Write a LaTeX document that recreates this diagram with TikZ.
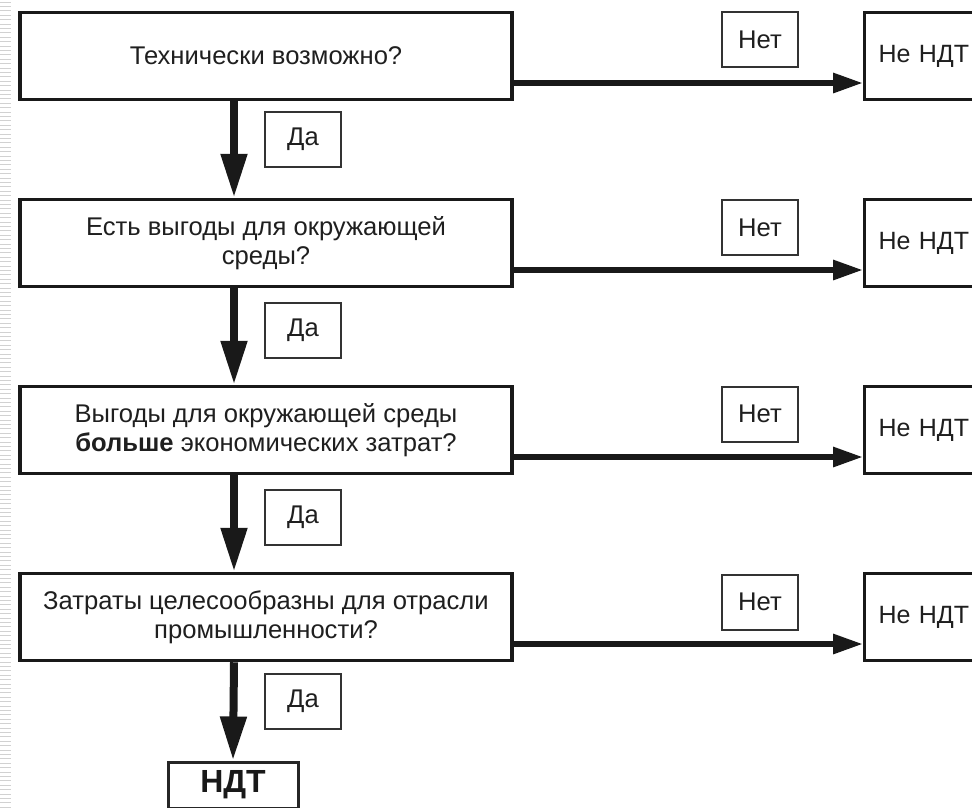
\documentclass[tikz,border=0pt]{standalone}
\usepackage{fontspec}
\setmainfont{Liberation Sans}
\usetikzlibrary{arrows.meta}
\begin{document}
\begin{tikzpicture}[x=1pt,y=-1pt,
  txt/.style={font=\fontsize{25.6}{29}\selectfont, text=black!88},
  mainbox/.style={txt, draw=black!90, line width=3.5pt, minimum width=492pt, minimum height=87pt, inner sep=0pt, align=center},
  lbl/.style={txt, draw=black!80, line width=2pt, minimum width=76pt, minimum height=55pt, inner sep=0pt},
  nnbox/.style={txt, draw=black!90, line width=3pt, anchor=west, minimum height=87pt, text width=110pt, inner xsep=14pt, inner ysep=0pt, align=left, font=\fontsize{25}{29}\selectfont},
  ndtbox/.style={draw=black!85, line width=3pt, minimum width=130pt, minimum height=46pt, inner sep=0pt, font=\fontsize{32}{36}\selectfont\bfseries, text=black!90},
  varrow/.style={draw=black!90, line width=8pt, -{Triangle[width=25pt,length=44pt]}},
  harrow/.style={draw=black!90, line width=6pt, -{Triangle[width=19pt,length=30pt]}},
  stripe/.style={draw=black!18, line width=0.9pt}
]
\useasboundingbox (0,0) rectangle (972,807);
\fill[white] (0,0) rectangle (972,807);
\clip (0,0) rectangle (972,807);
% left edge stripes
\foreach \i in {0,...,183} \draw[stripe] (0,{\i*4.4+2}) -- (11,{\i*4.4+2});

% main question boxes
\node[mainbox] (q1) at (266,56) {Технически возможно?};
\node[mainbox] (q2) at (266,243) {Есть выгоды для окружающей\\среды?};
\node[mainbox] (q3) at (266,430) {Выгоды для окружающей среды\\\textbf{больше} экономических затрат?};
\node[mainbox] (q4) at (266,617) {Затраты целесообразны для отрасли\\промышленности?};

% "Не НДТ" boxes
\node[nnbox] (n1) at (863,56) {Не НДТ};
\node[nnbox] (n2) at (863,243) {Не НДТ};
\node[nnbox] (n3) at (863,430) {Не НДТ};
\node[nnbox] (n4) at (863,617) {Не НДТ};

% "Нет" labels
\node[lbl] (no1) at (760,39.5) {Нет};
\node[lbl] (no2) at (760,227.5) {Нет};
\node[lbl] (no3) at (760,414) {Нет};
\node[lbl] (no4) at (760,602) {Нет};

% "Да" labels
\node[lbl] (y1) at (303,139) {Да};
\node[lbl] (y2) at (303,330) {Да};
\node[lbl] (y3) at (303,517) {Да};
\node[lbl] (y4) at (303,701) {Да};

% final box
\node[ndtbox] (ndt) at (233,785) {НДТ};

% horizontal "no" arrows
\draw[harrow] ([yshift=-27pt]q1.east) -- ([yshift=-27pt]n1.west);
\draw[harrow] ([yshift=-27pt]q2.east) -- ([yshift=-27pt]n2.west);
\draw[harrow] ([yshift=-27pt]q3.east) -- ([yshift=-27pt]n3.west);
\draw[harrow] ([yshift=-27pt]q4.east) -- ([yshift=-27pt]n4.west);

% vertical "yes" arrows
\draw[varrow] ([xshift=-32pt]q1.south) -- ([xshift=-32pt]q2.north);
\draw[varrow] ([xshift=-32pt]q2.south) -- ([xshift=-32pt]q3.north);
\draw[varrow] ([xshift=-32pt]q3.south) -- ([xshift=-32pt]q4.north);
\draw[varrow] ([xshift=-32pt]q4.south) -- (ndt.north);
\end{tikzpicture}
\end{document}
